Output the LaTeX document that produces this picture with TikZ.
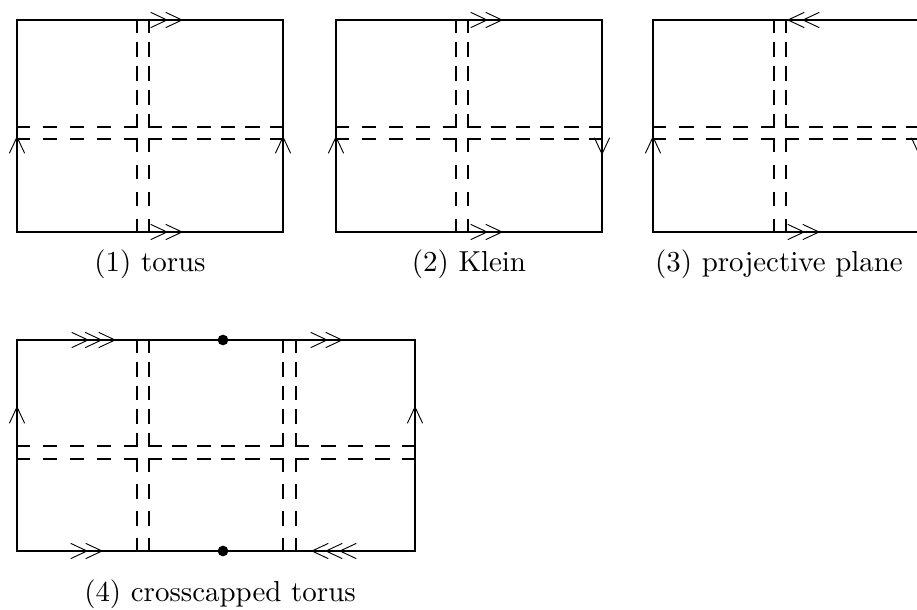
\documentclass[tikz,border=0pt]{standalone}
\usepackage{fontspec}
\newfontfamily\capfont{lmroman10-regular.otf}
% dashed segment that starts and ends with a dash: the gaps are stretched to fit
\newcommand\dseg[4]{%
  \pgfmathsetmacro\seglen{veclen(#3-#1,#4-#2)*0.75}%
  \pgfmathsetmacro\ndash{max(2,round((\seglen+10.5)/19.5))}%
  \pgfmathsetmacro\offlen{(\seglen-\ndash*9)/(\ndash-1)}%
  \draw[dashline,dash pattern=on 9pt off \offlen pt] (#1,#2) -- (#3,#4);}
\begin{document}
\begin{tikzpicture}[x=0.75pt,y=-0.75pt,
  edge/.style={line width=1.5pt,line join=miter},
  dashline/.style={line width=1.9pt,line cap=rect},
  arrowline/.style={line width=0.7pt,line cap=round,line join=miter},
  tipmark/.pic={\draw[arrowline] (-16,-7.5) -- (0,0) -- (-16,7.5);},
  caption/.style={font=\capfont\fontsize{21.7}{26}\selectfont,inner sep=0pt,anchor=base},
  vertexdot/.style={fill=black,draw=none}]
\useasboundingbox (0,0) rectangle (917,610);
\clip (0,0) rectangle (917,610);

% ---------- (1) torus ----------
\draw[edge] (17,20) rectangle (283,232);
\foreach \x in {137,149}{
  \dseg{\x}{20}{\x}{127}
  \dseg{\x}{139}{\x}{232}}
\foreach \y in {127,139}{
  \dseg{17}{\y}{137}{\y}
  \dseg{149}{\y}{283}{\y}}
\foreach \t in {167,182}{
  \pic at (\t,20) {tipmark};
  \pic at (\t,232) {tipmark};}
\pic[rotate=90] at (17,137) {tipmark};
\pic[rotate=90] at (283,137) {tipmark};
\node[caption] (torus) at (150,271) {(1) torus};

% ---------- (2) Klein ----------
\draw[edge] (336,20) rectangle (602,232);
\foreach \x in {456,468}{
  \dseg{\x}{20}{\x}{127}
  \dseg{\x}{139}{\x}{232}}
\foreach \y in {127,139}{
  \dseg{336}{\y}{456}{\y}
  \dseg{468}{\y}{602}{\y}}
\foreach \t in {487,502}{
  \pic at (\t,20) {tipmark};
  \pic at (\t,232) {tipmark};}
\pic[rotate=90] at (336,137) {tipmark};
\pic[rotate=-90] at (602,154) {tipmark};
\node[caption] (klein) at (469,271) {(2) Klein};

% ---------- (3) projective plane ----------
\draw[edge] (653,20) rectangle (919,232);
\foreach \x in {774,786}{
  \dseg{\x}{20}{\x}{127}
  \dseg{\x}{139}{\x}{232}}
\foreach \y in {127,139}{
  \dseg{653}{\y}{774}{\y}
  \dseg{786}{\y}{919}{\y}}
\foreach \t in {788,803}{
  \pic[rotate=180] at (\t,20) {tipmark};}
\foreach \t in {804,819}{
  \pic at (\t,232) {tipmark};}
\pic[rotate=90] at (653,137) {tipmark};
\pic[rotate=-90] at (919,154) {tipmark};
\node[caption] (proj) at (779,271) {(3) projective plane};

% ---------- (4) crosscapped torus ----------
\draw[edge] (17,340) rectangle (415,551);
\foreach \x in {137,149,283,296}{
  \dseg{\x}{340}{\x}{446}
  \dseg{\x}{459}{\x}{551}}
\foreach \y in {446,459}{
  \dseg{17}{\y}{137}{\y}
  \dseg{149}{\y}{283}{\y}
  \dseg{296}{\y}{415}{\y}}
\foreach \t in {88,101.5,115,327,342}{
  \pic at (\t,340) {tipmark};}
\foreach \t in {87,102}{
  \pic at (\t,551) {tipmark};}
\foreach \t in {312,326,340}{
  \pic[rotate=180] at (\t,551) {tipmark};}
\pic[rotate=90] at (17,407) {tipmark};
\pic[rotate=90] at (415,407) {tipmark};
\fill[vertexdot] (223,340) circle[radius=4pt];
\fill[vertexdot] (223,551) circle[radius=4pt];
\node[caption] (cross) at (220,601) {(4) crosscapped torus};
\end{tikzpicture}
\end{document}
